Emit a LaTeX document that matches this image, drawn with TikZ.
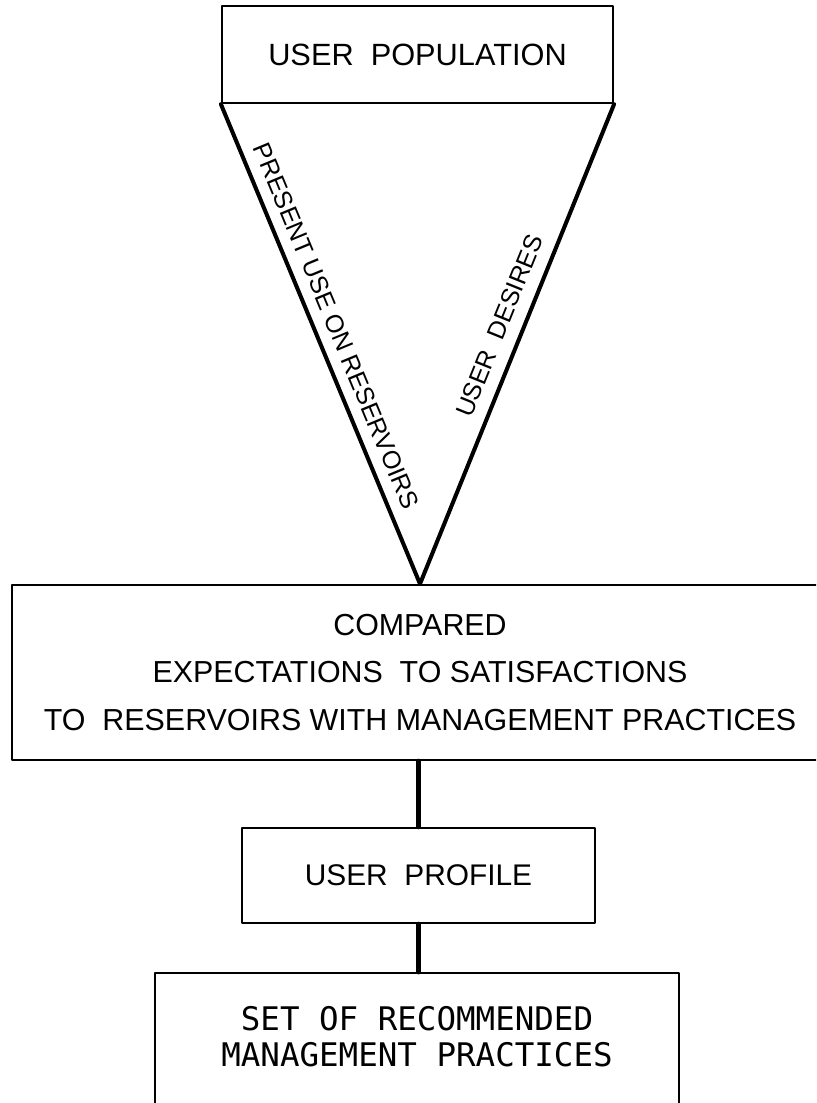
\documentclass[tikz,border=0pt]{standalone}
\usepackage{fontspec}
\newfontfamily\lettering{Liberation Sans}
\newfontfamily\typelettering{DejaVu Sans Mono}
\begin{document}
\begin{tikzpicture}[x=0.02cm, y=-0.02cm, line join=round, line cap=round,
	box/.style={draw, line width=1.3pt, align=center, inner sep=0pt},
	leg/.style={line width=2.3pt},
	link/.style={line width=2.8pt},
	slant/.style={font=\lettering\fontsize{14.3}{16}\selectfont, sloped, inner sep=2pt}]
	\useasboundingbox (0,0) rectangle (816,1103);
	\clip (0,0) rectangle (816,1103);
	\node[box, minimum width=7.82cm, minimum height=1.94cm, font=\lettering\fontsize{17.5}{20}\selectfont] (pop) at (417.5,54.5) {USER~~POPULATION};
	\node[box, minimum width=16.32cm, minimum height=3.5cm, font=\lettering\fontsize{17.3}{27}\selectfont] (cmp) at (420,672.5) {COMPARED\\EXPECTATIONS~~TO SATISFACTIONS\\TO~~RESERVOIRS WITH MANAGEMENT PRACTICES};
	\coordinate (apex) at (cmp.north);
	\draw[leg] (pop.south west) -- node[slant, above=4pt, pos=0.48] {PRESENT USE ON RESERVOIRS} (apex);
	\draw[leg] (apex) -- node[slant, above=5pt, pos=0.52] {USER~~DESIRES} (pop.south east);
	\node[box, minimum width=7.06cm, minimum height=1.9cm, font=\lettering\fontsize{17}{20}\selectfont] (prof) at (418.5,875.5) {USER~~PROFILE};
	\node[box, anchor=north, minimum width=10.48cm, inner ysep=19pt, text depth=1.5cm, font=\typelettering\fontsize{18.5}{20.5}\selectfont] (rec) at (417,972) {SET OF RECOMMENDED\\MANAGEMENT PRACTICES};
	\draw[link] (cmp.south -| prof.north) -- (prof.north);
	\draw[link] (prof.south) -- (prof.south |- rec.north);
\end{tikzpicture}
\end{document}
